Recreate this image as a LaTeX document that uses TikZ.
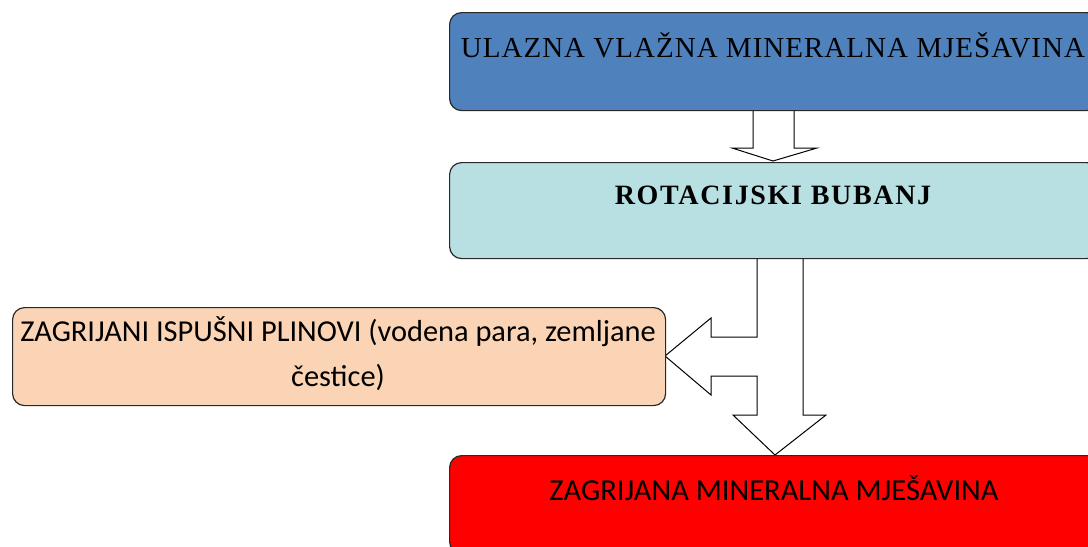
\documentclass[tikz,border=0pt]{standalone}
\usepackage{fontspec}
\setmainfont{Liberation Serif}
\newfontfamily\calibrifont{Carlito}
\usetikzlibrary{calc}
\definecolor{inletblue}{RGB}{79,129,189}
\definecolor{drumcyan}{RGB}{184,224,227}
\definecolor{gaspeach}{RGB}{250,212,180}
\definecolor{hotred}{RGB}{255,0,0}
\definecolor{edgegray}{RGB}{40,40,40}

\begin{document}
\begin{tikzpicture}[x=0.75pt, y=-0.75pt,
    stagebox/.style={draw=edgegray, line width=0.9pt, rounded corners=9pt, inner sep=0pt, anchor=north west},
    blockarrow/.style={draw=black, fill=white, line width=0.75pt, line join=miter}]

    \useasboundingbox (0,0) rectangle (1088,546);
    \clip (0,0) rectangle (1088,546);

    % 1. Stage boxes (anchors only, drawn again below on top of the arrows)
    \path (449,12) coordinate (inletnw) (449,162) coordinate (drumnw)
          (449,455) coordinate (outletnw) (12,307) coordinate (gasnw);
    \coordinate (inletsouth) at (773.5,110);
    \coordinate (drumsouth) at (773.5,258);

    % 2. Block arrows
    \begin{scope}[shift={(inletsouth)}]
        \draw[blockarrow] (-20.5,-10) -- (-20.5,38) -- (-41.5,38) -- (-0.5,51)
            -- (43.5,38) -- (20.5,38) -- (20.5,-10);
    \end{scope}
    \begin{scope}[shift={(drumsouth)}]
        \draw[blockarrow] (-16.5,-10) -- (-16.5,79) -- (-62.5,79) -- (-62.5,60)
            -- (-108.5,98) -- (-62.5,137) -- (-62.5,118) -- (-16.5,118)
            -- (-16.5,157) -- (-40.5,157) -- (1.5,197) -- (52.5,157)
            -- (29.5,157) -- (29.5,-10);
    \end{scope}

    % 3. Boxes
    \node[stagebox, fill=inletblue, minimum width=486.75pt, minimum height=73.5pt] (inlet) at (inletnw) {};
    \node[stagebox, fill=drumcyan, minimum width=486.75pt, minimum height=72pt] (drum) at (drumnw) {};
    \node[stagebox, fill=hotred, minimum width=486.75pt, minimum height=73.5pt] (outlet) at (outletnw) {};
    \node[stagebox, fill=gaspeach, minimum width=489.75pt, minimum height=73.5pt] (gas) at (gasnw) {};

    % 4. Labels
    \node[font=\addfontfeature{LetterSpace=3.5}\fontsize{21.75}{26}\selectfont] (inlettxt) at (773,45) {ULAZNA VLAŽNA MINERALNA MJEŠAVINA};
    \node[font=\bfseries\addfontfeature{LetterSpace=6}\fontsize{21}{24}\selectfont] (drumtxt) at (773,195) {ROTACIJSKI BUBANJ};
    \node[font=\calibrifont\fontsize{22.9}{26}\selectfont] (outlettxt) at (774,488) {ZAGRIJANA MINERALNA MJEŠAVINA};
    \node[font=\calibrifont\fontsize{22.8}{33.75}\selectfont, align=center] (gastxt) at (338,354)
        {ZAGRIJANI ISPUŠNI PLINOVI (vodena para, zemljane\\čestice)};

\end{tikzpicture}
\end{document}
